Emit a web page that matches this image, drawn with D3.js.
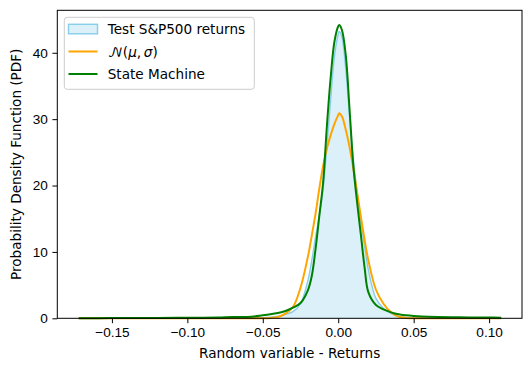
<!DOCTYPE html>
<html>
<head>
<meta charset="utf-8">
<script src="https://cdn.jsdelivr.net/npm/d3@7"></script>
<style>
  body { margin: 0; background: #fff; }
  svg { display: block; font-family: "DejaVu Sans", sans-serif; }
  .tick text { font-size: 13.6px; fill: #000; }
</style>
</head>
<body>
<svg></svg>
<script>
var width = 531;
var height = 371;

// returns grid (x) and densities
var returnsX = [-0.172, -0.15, -0.12, -0.10, -0.08, -0.07, -0.06, -0.05, -0.045, -0.04, -0.035, -0.03,
                -0.025, -0.02, -0.0175, -0.015, -0.0125, -0.01, -0.0075, -0.005, -0.0025, 0.0, 0.0007, 0.0025,
                0.005, 0.0075, 0.01, 0.0125, 0.015, 0.0175, 0.02, 0.025,
                0.03, 0.035, 0.04, 0.045, 0.05, 0.06, 0.08, 0.10, 0.108];
var testPdf = [0.01, 0.01, 0.02, 0.02, 0.03, 0.04, 0.05, 0.08, 0.15, 0.3, 0.6, 1.0,
               2.2, 5.8, 8.8, 12.3, 15.5, 19.5, 26, 33, 39.5, 42.8, 43.2, 42.3,
               37.5, 30.5, 24, 19, 14.8, 10.8, 7.3, 3.0,
               1.5, 0.75, 0.25, 0.08, 0.03, 0.02, 0.01, 0.01, 0.01];
var normalPdf = [0, 0, 0, 0, 0, 0, 0, 0.01, 0.05, 0.2, 0.7, 1.7,
                 4.6, 9.4, 12.5, 15.8, 19.6, 23.0, 25.6, 27.6, 29.3, 30.6, 30.9, 30.4,
                 28.4, 25.8, 22.6, 19.0, 15.3, 11.8, 8.7, 4.3,
                 2.2, 0.9, 0.25, 0.06, 0.01, 0, 0, 0, 0];
var stateMachinePdf = [0.02, 0.03, 0.05, 0.08, 0.12, 0.2, 0.2, 0.45, 0.6, 0.8, 1.1, 1.6,
                       2.3, 4.3, 6.4, 10.5, 15.5, 20.5, 29, 36.3, 41.7, 44.0, 44.2, 43.4,
                       39.6, 31.5, 23, 17.5, 12.6, 7.6, 3.9, 2.0,
                       1.35, 0.9, 0.6, 0.45, 0.35, 0.22, 0.15, 0.12, 0.1];

var xTicks = [-0.15, -0.10, -0.05, 0.00, 0.05, 0.10];
var yTicks = [0, 10, 20, 30, 40];

var legendLabels = ["Test S&P500 returns", "normal", "State Machine"];

var svg = d3.select('svg')
            .attr('width', width)
            .attr('height', height);

var x = d3.scaleLinear().domain([-0.1862, 0.1218]).range([57.3, 522]);
var y = d3.scaleLinear().domain([0, 46.4]).range([318.3, 10.3]);

var pts = function(vals) {
  return returnsX.map(function(d, i) { return [d, vals[i]]; });
};

var line = d3.line()
             .x(d => x(d[0]))
             .y(d => y(d[1]))
             .curve(d3.curveCatmullRom.alpha(0.5));

var area = d3.area()
             .x(d => x(d[0]))
             .y0(y(0))
             .y1(d => y(d[1]))
             .curve(d3.curveCatmullRom.alpha(0.5));

var plot = svg.append('g');

plot.append('path')
    .attr('d', area(pts(testPdf)))
    .attr('fill', 'skyblue')
    .attr('fill-opacity', 0.3)
    .attr('stroke', 'none');
plot.append('path')
    .attr('d', line(pts(testPdf)))
    .attr('fill', 'none')
    .attr('stroke', 'skyblue')
    .attr('stroke-width', 1.4);

plot.append('path')
    .attr('d', line(pts(normalPdf)))
    .attr('fill', 'none')
    .attr('stroke', 'orange')
    .attr('stroke-width', 2);

plot.append('path')
    .attr('d', line(pts(stateMachinePdf)))
    .attr('fill', 'none')
    .attr('stroke', 'green')
    .attr('stroke-width', 2);

// axes
var xAxis = svg.append('g')
   .attr('transform', 'translate(0,' + y(0) + ')')
   .call(d3.axisBottom(x).tickValues(xTicks).tickSize(4.9).tickPadding(4.5).tickFormat(d3.format('.2f')));
var yAxis = svg.append('g')
   .attr('transform', 'translate(' + x.range()[0] + ',0)')
   .call(d3.axisLeft(y).tickValues(yTicks).tickSize(4.9).tickPadding(4.5).tickFormat(d3.format('d')));
xAxis.select('.domain').remove();
yAxis.select('.domain').remove();
svg.selectAll('.tick line').attr('stroke', '#000').attr('stroke-width', 1);

svg.append('rect')
   .attr('x', 57.3).attr('y', 10.3)
   .attr('width', 522 - 57.3).attr('height', 318.3 - 10.3)
   .attr('fill', 'none').attr('stroke', '#000').attr('stroke-width', 1);

svg.append('text')
   .attr('x', (57.3 + 522) / 2).attr('y', 357.5)
   .attr('text-anchor', 'middle')
   .style('font-size', '13.6px')
   .text('Random variable - Returns');

svg.append('text')
   .attr('transform', 'translate(20.5,' + (318.3 + 10.3) / 2 + ') rotate(-90)')
   .attr('text-anchor', 'middle')
   .style('font-size', '13.6px')
   .text('Probability Density Function (PDF)');

// legend
var legend = svg.append('g');
legend.append('rect')
      .attr('x', 64.3).attr('y', 17.3)
      .attr('width', 190).attr('height', 72)
      .attr('rx', 3)
      .attr('fill', '#fff').attr('fill-opacity', 0.8)
      .attr('stroke', '#ccc').attr('stroke-width', 1);

var rows = [29, 51.5, 74];
legend.append('rect')
      .attr('x', 68.5).attr('y', 24.3)
      .attr('width', 29).attr('height', 9.5)
      .attr('fill', 'skyblue').attr('fill-opacity', 0.3)
      .attr('stroke', 'skyblue').attr('stroke-width', 1.4);
legend.append('line')
      .attr('x1', 68.5).attr('x2', 97.5).attr('y1', rows[1]).attr('y2', rows[1])
      .attr('stroke', 'orange').attr('stroke-width', 2);
legend.append('line')
      .attr('x1', 68.5).attr('x2', 97.5).attr('y1', rows[2]).attr('y2', rows[2])
      .attr('stroke', 'green').attr('stroke-width', 2);

legend.append('text')
      .attr('x', 107.7).attr('y', rows[0] + 5)
      .style('font-size', '13.6px')
      .text(legendLabels[0]);

var math = legend.append('text')
      .attr('x', 107.7).attr('y', rows[1] + 5)
      .style('font-size', '13.6px');
math.append('tspan').style('font-family', '"DejaVu Math TeX Gyre", "DejaVu Serif", serif').text('\u{1D4A9}');
math.append('tspan').text('(');
math.append('tspan').style('font-style', 'italic').text('\u03BC');
math.append('tspan').text(',\u2009');
math.append('tspan').style('font-style', 'italic').text('\u03C3');
math.append('tspan').text(')');

legend.append('text')
      .attr('x', 107.7).attr('y', rows[2] + 5)
      .style('font-size', '13.6px')
      .text(legendLabels[2]);
</script>
</body>
</html>
